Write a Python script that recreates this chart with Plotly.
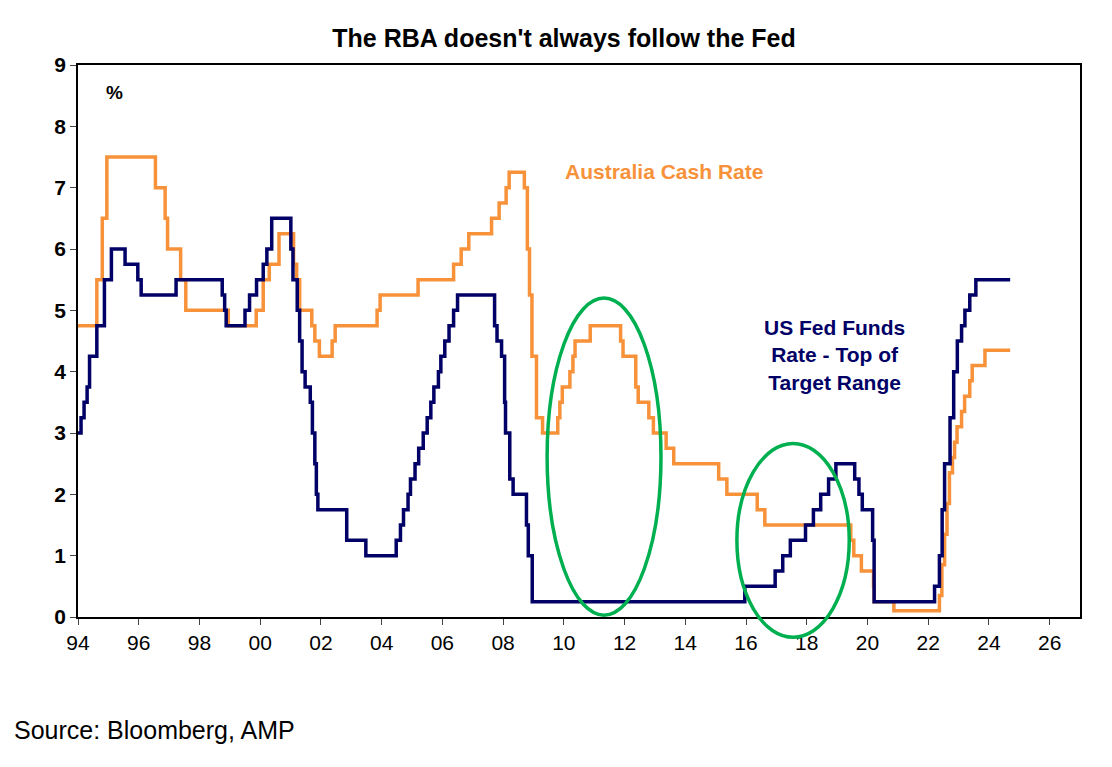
import plotly.graph_objects as go

fed_x = [1994.0,1994.1,1994.2,1994.3,1994.38,1994.62,1994.87,1995.1,1995.55,1995.97,1996.08,1997.23,1998.75,1998.83,1998.88,1999.5,1999.65,1999.88,2000.1,2000.22,2000.38,2001.01,2001.08,2001.22,2001.3,2001.38,2001.48,2001.65,2001.72,2001.8,2001.85,2001.9,2001.95,2002.85,2003.48,2004.48,2004.62,2004.72,2004.87,2004.95,2005.1,2005.22,2005.37,2005.5,2005.62,2005.72,2005.87,2005.95,2006.08,2006.22,2006.37,2006.5,2007.72,2007.8,2007.95,2008.05,2008.08,2008.22,2008.33,2008.77,2008.83,2008.96,2015.96,2016.96,2017.21,2017.46,2017.96,2018.22,2018.46,2018.72,2018.96,2019.58,2019.72,2019.83,2020.17,2020.22,2022.21,2022.37,2022.46,2022.54,2022.72,2022.84,2022.96,2023.1,2023.21,2023.37,2023.57,2024.7]
fed_y = [3.0,3.25,3.5,3.75,4.25,4.75,5.5,6.0,5.75,5.5,5.25,5.5,5.25,5.0,4.75,5.0,5.25,5.5,5.75,6.0,6.5,6.0,5.5,5.0,4.5,4.0,3.75,3.5,3.0,2.5,2.0,1.75,1.75,1.25,1.0,1.25,1.5,1.75,2.0,2.25,2.5,2.75,3.0,3.25,3.5,3.75,4.0,4.25,4.5,4.75,5.0,5.25,4.75,4.5,4.25,3.5,3.0,2.25,2.0,1.5,1.0,0.25,0.5,0.75,1.0,1.25,1.5,1.75,2.0,2.25,2.5,2.25,2.0,1.75,1.25,0.25,0.5,1.0,1.75,2.5,3.25,4.0,4.5,4.75,5.0,5.25,5.5,5.5]

rba_x = [1994.0,1994.62,1994.8,1994.95,1996.55,1996.87,1996.95,1997.38,1997.55,1998.95,1999.87,2000.1,2000.3,2000.62,2001.1,2001.2,2001.3,2001.7,2001.8,2001.95,2002.37,2002.47,2003.85,2003.95,2005.2,2006.37,2006.62,2006.87,2007.62,2007.87,2008.1,2008.2,2008.7,2008.8,2008.87,2008.95,2009.1,2009.3,2009.8,2009.87,2009.95,2010.2,2010.3,2010.37,2010.87,2011.87,2011.95,2012.37,2012.45,2012.8,2012.95,2013.37,2013.62,2015.1,2015.37,2016.37,2016.62,2019.45,2019.55,2019.8,2020.2,2020.22,2020.87,2022.37,2022.45,2022.54,2022.62,2022.7,2022.8,2022.87,2022.95,2023.1,2023.2,2023.37,2023.45,2023.87,2024.7]
rba_y = [4.75,5.5,6.5,7.5,7.0,6.5,6.0,5.5,5.0,4.75,5.0,5.5,5.75,6.25,5.75,5.5,5.0,4.75,4.5,4.25,4.5,4.75,5.0,5.25,5.5,5.75,6.0,6.25,6.5,6.75,7.0,7.25,7.0,6.0,5.25,4.25,3.25,3.0,3.25,3.5,3.75,4.0,4.25,4.5,4.75,4.5,4.25,3.75,3.5,3.25,3.0,2.75,2.5,2.25,2.0,1.75,1.5,1.25,1.0,0.75,0.5,0.25,0.1,0.35,0.85,1.35,1.85,2.35,2.6,2.85,3.1,3.35,3.6,3.85,4.1,4.35,4.35]

tick_vals = list(range(1994, 2027, 2))
tick_text = [f"{v % 100:02d}" for v in tick_vals]
y_max = 9

fig = go.Figure()
fig.add_trace(go.Scatter(x=rba_x, y=rba_y, mode="lines", line=dict(color="#F7923A", width=3.5, shape="hv")))
fig.add_trace(go.Scatter(x=fed_x, y=fed_y, mode="lines", line=dict(color="#000066", width=3.5, shape="hv")))

fig.add_shape(type="circle", x0=2009.45, x1=2013.2, y0=0.03, y1=5.2, line=dict(color="#00B050", width=3.5))
fig.add_shape(type="circle", x0=2015.7, x1=2019.4, yref="paper", y0=-0.33 / y_max, y1=2.83 / y_max,
              line=dict(color="#00B050", width=3.5))

fnt = "Liberation Sans, Arial"
fig.add_annotation(x=2013.3, y=7.27, text="<b>Australia Cash Rate</b>", showarrow=False, xanchor="center",
                   font=dict(family=fnt, size=21, color="#F7923A"))
fig.add_annotation(x=2018.9, y=4.27, text="<b>US Fed Funds<br>Rate - Top of<br>Target Range</b>", showarrow=False,
                   font=dict(family=fnt, size=21, color="#000066"))
fig.add_annotation(x=1995.2, y=8.55, text="<b>%</b>", showarrow=False, font=dict(family=fnt, size=19, color="black"))
fig.add_annotation(xref="paper", yref="paper", x=-0.066, y=-0.205, xanchor="left", yanchor="middle",
                   text="Source: Bloomberg, AMP", showarrow=False, font=dict(family=fnt, size=25, color="black"))

fig.update_layout(
    width=1112, height=767, showlegend=False,
    paper_bgcolor="white", plot_bgcolor="white",
    margin=dict(l=70, r=40, t=57, b=158),
    title=dict(text="<b>The RBA doesn't always follow the Fed</b>", x=0.5, xanchor="center", y=0.972,
               font=dict(family=fnt, size=25, color="black")),
    font=dict(family=fnt, color="black"),
)
fig.update_xaxes(range=[1994, 2027], tickvals=tick_vals, ticktext=tick_text, showgrid=False, zeroline=False,
                 showline=True, linecolor="black", linewidth=1.5, mirror=True, ticks="outside", ticklen=6,
                 tickfont=dict(family=fnt, size=21, color="black"), tickprefix="<b>", ticksuffix="</b>")
fig.update_yaxes(range=[0, y_max], dtick=1, showgrid=False, zeroline=False,
                 showline=True, linecolor="black", linewidth=1.5, mirror=True, ticks="outside", ticklen=6,
                 tickfont=dict(family=fnt, size=21, color="black"), tickprefix="<b>", ticksuffix="</b>")
fig.write_html("out.html")
